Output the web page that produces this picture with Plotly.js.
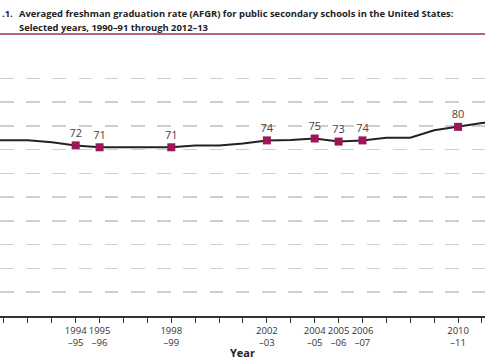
<!DOCTYPE html>
<html>
<head>
<meta charset="utf-8">
<script src="https://cdn.plot.ly/plotly-3.0.1.min.js"></script>
<style>html,body{margin:0;padding:0;background:#fff;}#chart{width:485px;height:360px;}</style>
</head>
<body>
<div id="chart"></div>
<script>
// School-year start years (1990 = 1990-91)
const years = [1990,1991,1992,1993,1994,1995,1996,1997,1998,1999,2000,2001,2002,2003,2004,2005,2006,2007,2008,2009,2010,2011,2012];
const afgr  = [74.0,74.1,74.0,73.1,71.8,71.0,71.1,71.1,71.0,71.7,71.7,72.6,73.9,74.1,74.7,73.4,73.9,75.0,75.0,78.2,79.6,81.2,81.9];
// Highlighted (labelled) years visible in the chart
const markYears  = [1994,1995,1998,2002,2004,2005,2006,2010];
const markLabels = ['72','71','71','74','75','73','74','80'];
// Tick labels shown only for highlighted years
const tickLabelMap = {1994:'1994<br>–95',1995:'1995<br>–96',1998:'1998<br>–99',2002:'2002<br>–03',2004:'2004<br>–05',2005:'2005<br>–06',2006:'2006<br>–07',2010:'2010<br>–11'};
const yTicks = [10,20,30,40,50,60,70,80,90,100];
const titleLine1 = 'Averaged freshman graduation rate (AFGR) for public secondary schools in the United States:';
const titleLine2 = 'Selected years, 1990–91 through 2012–13';
const figNum = '.1.';

const markVals = markYears.map(y => afgr[years.indexOf(y)]);
const tickText = years.map(y => tickLabelMap[y] || '');

const font = "'Open Sans', 'Noto Sans', sans-serif";
const T = 75.6, H = 240.4;            // plot top margin and height in px
const py = p => 1 + (T - p) / H;      // page pixel y -> paper y

const traces = [
  {x: years, y: afgr, type: 'scatter', mode: 'lines',
   line: {color: '#222', width: 2}, hoverinfo: 'skip', showlegend: false},
  {x: markYears, y: markVals, type: 'scatter', mode: 'markers+text',
   text: markLabels, textposition: 'top center',
   textfont: {family: font, size: 11, color: '#444'},
   marker: {symbol: 'square', size: 8, color: '#9c1658'},
   showlegend: false}
];

const titleFont = {family: font, size: 9.4, color: '#222', weight: 'bold'};

const layout = {
  width: 485, height: 360,
  margin: {l: 0, r: 0, t: T, b: 44, pad: 0},
  paper_bgcolor: '#fff', plot_bgcolor: '#fff',
  showlegend: false,
  xaxis: {
    range: [1990.833, 2011.126],
    tickvals: years, ticktext: tickText, tickangle: 0,
    ticks: 'outside', ticklen: 5, tickwidth: 1, tickcolor: '#333',
    showline: true, linecolor: '#333', linewidth: 1.5,
    showgrid: false, zeroline: false,
    tickfont: {family: font, size: 9.5, color: '#333'},
    title: {text: 'Year', font: {family: font, size: 11, color: '#222', weight: 'bold'}, standoff: 2},
    fixedrange: true
  },
  yaxis: {
    range: [0, 101],
    tickvals: yTicks, showticklabels: false, ticks: '',
    showgrid: true, gridcolor: '#cfcfcf', gridwidth: 1.5, griddash: '13.5px,12.7px',
    zeroline: false, showline: false, fixedrange: true
  },
  annotations: [
    {text: figNum, xref: 'paper', yref: 'paper', x: 0, y: py(13),
     xanchor: 'left', yanchor: 'middle', showarrow: false, font: titleFont},
    {text: titleLine1, xref: 'paper', yref: 'paper', x: 17/485, y: py(13),
     xanchor: 'left', yanchor: 'middle', showarrow: false, font: titleFont},
    {text: titleLine2, xref: 'paper', yref: 'paper', x: 17/485, y: py(27),
     xanchor: 'left', yanchor: 'middle', showarrow: false, font: titleFont}
  ],
  shapes: [
    {type: 'line', xref: 'paper', yref: 'paper', x0: 0, x1: 1,
     y0: py(33.5), y1: py(33.5),
     line: {color: '#b5647f', width: 2}}
  ]
};

Plotly.newPlot('chart', traces, layout, {displayModeBar: false, staticPlot: true});
</script>
</body>
</html>
